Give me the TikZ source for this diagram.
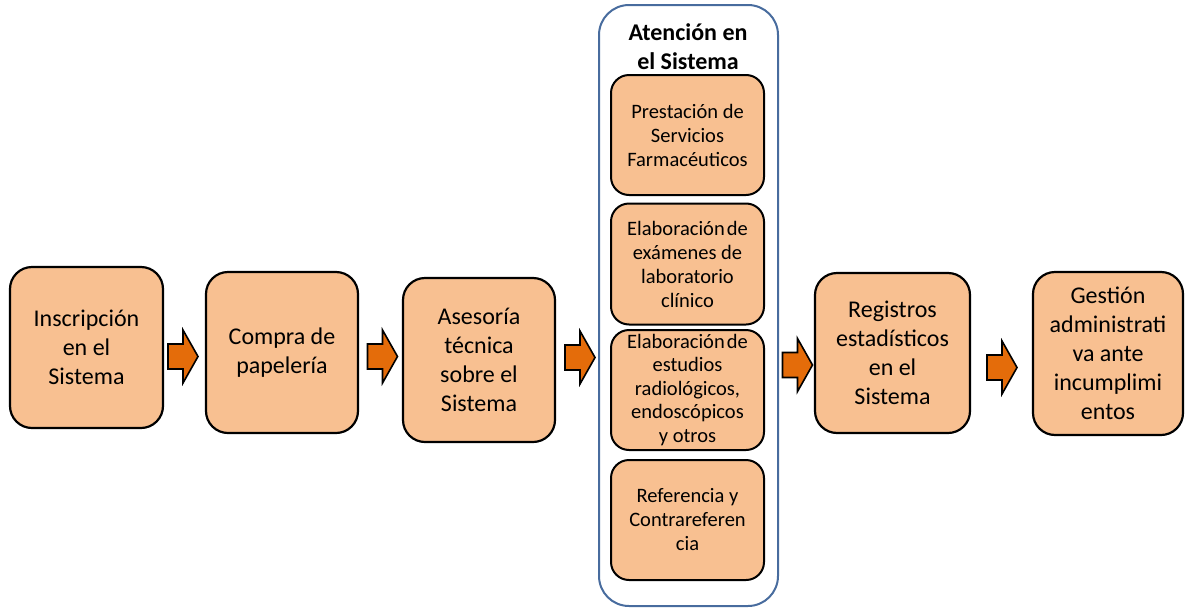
\documentclass[tikz,border=0pt]{standalone}
\usepackage{fontspec}
\setmainfont{Carlito}
\definecolor{boxfill}{RGB}{248,192,145}
\definecolor{arrowfill}{RGB}{228,108,10}
\definecolor{frameblue}{RGB}{72,108,158}
\tikzset{
  mainbox/.style={draw=black, line width=2.2pt, fill=boxfill, rounded corners=22pt, align=center,
    font=\fontsize{24}{29}\selectfont, inner sep=0pt},
  innerbox/.style={draw=black, line width=2pt, fill=boxfill, rounded corners=18pt, align=center,
    font=\fontsize{20.5}{24}\selectfont, inner sep=0pt, minimum width=153pt},
  blockarrow/.style={draw=black, line width=1.6pt, fill=arrowfill, line join=miter},
}
\newcommand{\barrow}[3]{% name, x-left, y-center
  \coordinate (#1) at (#2,#3);
  \draw[blockarrow] ([shift={(0,-12.5)}]#1) -- ([shift={(15,-12.5)}]#1) -- ([shift={(15,-26.5)}]#1)
    -- ([shift={(30,0)}]#1) -- ([shift={(15,26.5)}]#1) -- ([shift={(15,12.5)}]#1)
    -- ([shift={(0,12.5)}]#1) -- cycle;}
\begin{document}
\begin{tikzpicture}[x=1pt,y=-1pt]
\useasboundingbox (0,0) rectangle (1185,608);
% container
\node[draw=frameblue, line width=2pt, rounded corners=30pt, minimum width=179pt, minimum height=601pt, inner sep=0pt] (frame) at (688.5,305.5) {};
\node[font=\bfseries\fontsize{24}{29}\selectfont, align=center] (title) at (688,46.5) {Atención en\\el Sistema};
% main boxes
\node[mainbox, minimum width=153pt, minimum height=161pt] (b1) at (86.5,347.5) {Inscripción\\en el\\Sistema};
\node[mainbox, minimum width=152pt, minimum height=161pt] (b2) at (282,352.5) {Compra de\\papelería};
\node[mainbox, minimum width=152pt, minimum height=164pt] (b3) at (479,360) {Asesoría\\técnica\\sobre el\\Sistema};
\node[mainbox, minimum width=155pt, minimum height=160pt] (b5) at (892.5,353) {Registros\\estadísticos\\en el\\Sistema};
\node[mainbox, minimum width=150pt, minimum height=163pt] (b6) at (1108,353.5) {Gestión\\administrati\\va ante\\incumplimi\\entos};
% inner boxes
\node[innerbox, minimum height=120pt] (i1) at (687.5,135) {Prestación de\\Servicios\\Farmacéuticos};
\node[innerbox, minimum height=121pt] (i2) at (687.5,264) {Elaboración\hspace{0.1em}de\\exámenes de\\laboratorio\\clínico};
\node[innerbox, minimum height=120pt, font=\fontsize{20.5}{23.5}\selectfont] (i3) at (687.5,390) {Elaboración\hspace{0.1em}de\\estudios\\radiológicos,\\endoscópicos\\y otros};
\node[innerbox, minimum height=120pt] (i4) at (687.5,520) {Referencia y\\Contrareferen\\cia};
% block arrows
\barrow{a1}{168}{356.5}
\barrow{a2}{367.5}{356.5}
\barrow{a3}{565}{357.5}
\barrow{a4}{782.5}{365}
\barrow{a5}{987}{367.5}
\end{tikzpicture}
\end{document}
